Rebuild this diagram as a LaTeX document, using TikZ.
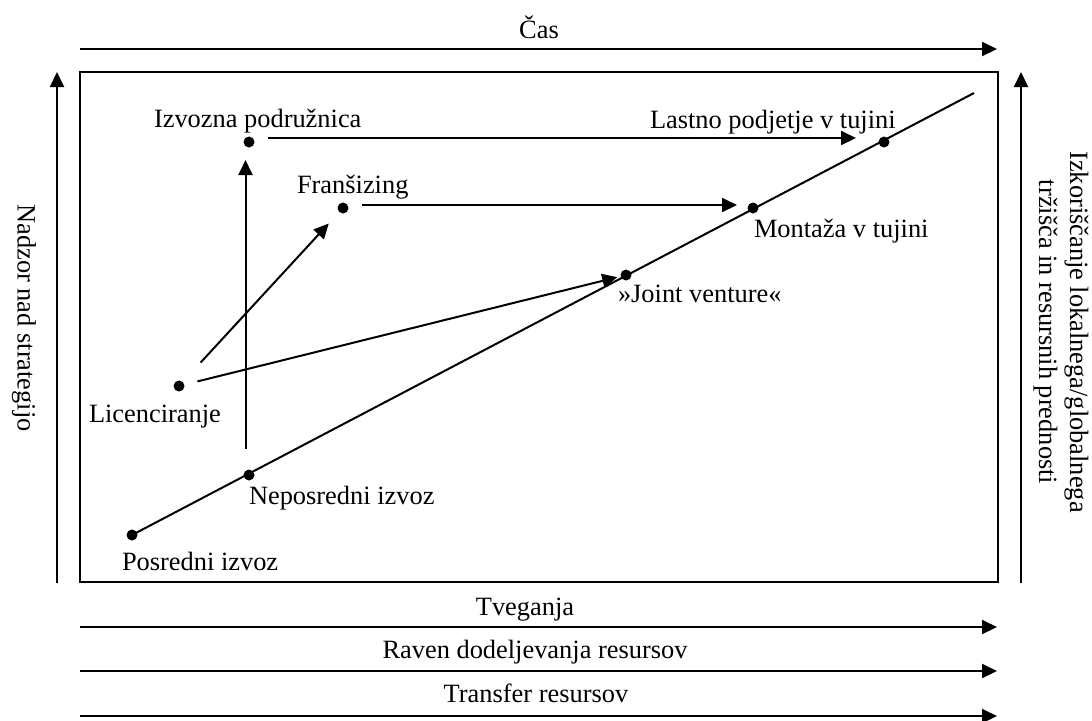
\documentclass[tikz,border=0pt]{standalone}
\usepackage{fontspec}
\setmainfont{Liberation Serif}
\usetikzlibrary{arrows.meta,calc}
\begin{document}
\begin{tikzpicture}[x=0.5pt,y=-0.5pt,
  line width=1pt,
  arr/.style={-{Triangle[length=7.5pt,width=7pt]}},
  dot/.style={circle,fill,inner sep=0pt,minimum size=5.5pt},
  lbl/.style={font=\fontsize{13.2}{15.5}\selectfont,inner sep=0pt},
  rlbl/.style={lbl,align=center,rotate=-90}
]
\useasboundingbox (0,0) rectangle (1092,720);

% frame
\draw (80,72) rectangle (998,582);

% top axis
\coordinate (casS) at (80,49);
\coordinate (casE) at (997,49);
\draw[arr] (casS) -- (casE);
\node[lbl,anchor=base] (cas) at (539,38) {Čas};

% left axis
\coordinate (lS) at (57,583);
\coordinate (lE) at (57,72);
\draw[arr] (lS) -- (lE);
\node[lbl,rotate=-90] (nadzor) at (24,318) {Nadzor nad strategijo};

% right axis
\coordinate (rS) at (1021,583);
\coordinate (rE) at (1021,72);
\draw[arr] (rS) -- (rE);
\node[rlbl] (izk) at (1061,332) {Izkoriščanje lokalnega/globalnega\\tržišča in resursnih prednosti};

% bottom axes
\coordinate (t1S) at (80,627); \coordinate (t1E) at (997,627);
\coordinate (t2S) at (80,671); \coordinate (t2E) at (997,671);
\coordinate (t3S) at (80,716); \coordinate (t3E) at (997,716);
\draw[arr] (t1S) -- (t1E);
\draw[arr] (t2S) -- (t2E);
\draw[arr] (t3S) -- (t3E);
\node[lbl,anchor=base] (tveg) at (525,615) {Tveganja};
\node[lbl,anchor=base] (raven) at (535,658) {Raven dodeljevanja resursov};
\node[lbl,anchor=base] (transf) at (536,702) {Transfer resursov};

% dots
\node[dot] (pos) at (132,535) {};
\node[dot] (nep) at (249,475) {};
\node[dot] (lic) at (179,386) {};
\node[dot] (izv) at (249,142) {};
\node[dot] (fra) at (343,208) {};
\node[dot] (jv)  at (626,275) {};
\node[dot] (mon) at (753,208) {};
\node[dot] (las) at (884,142) {};
\coordinate (diagE) at (974,93);

% labels
\node[lbl,anchor=base west] at (153,127) {Izvozna podružnica};
\node[lbl,anchor=base west] at (296,193) {Franšizing};
\node[lbl,anchor=base west] at (88,422) {Licenciranje};
\node[lbl,anchor=base west] at (248,504) {Neposredni izvoz};
\node[lbl,anchor=base west] at (121,570) {Posredni izvoz};
\node[lbl,anchor=base west] at (649,128) {Lastno podjetje v tujini};
\node[lbl,anchor=base west] at (753,237) {Montaža v tujini};
\node[lbl,anchor=base west] at (617,302) {»Joint venture«};

% diagonal line
\draw (pos.center) -- (diagE);

% connectors
\draw[arr, shorten <=9.5pt, shorten >=14pt] ([yshift=2pt]izv.center) -- ([yshift=2pt]las.center);
\draw[arr, shorten <=13pt, shorten >=9pt] ([xshift=-1.75pt]nep.center) -- ([xshift=-1.75pt]izv.center);
\draw[arr, shorten <=16pt, shorten >=10.5pt] (lic.center) -- (fra.center);
\draw[arr, shorten <=9.5pt, shorten >=4.5pt] (lic.center) -- (jv.center);
\draw[arr, shorten <=9.5pt, shorten >=8pt] ([yshift=1.5pt]fra.center) -- ([yshift=1.5pt]mon.center);
\end{tikzpicture}
\end{document}
